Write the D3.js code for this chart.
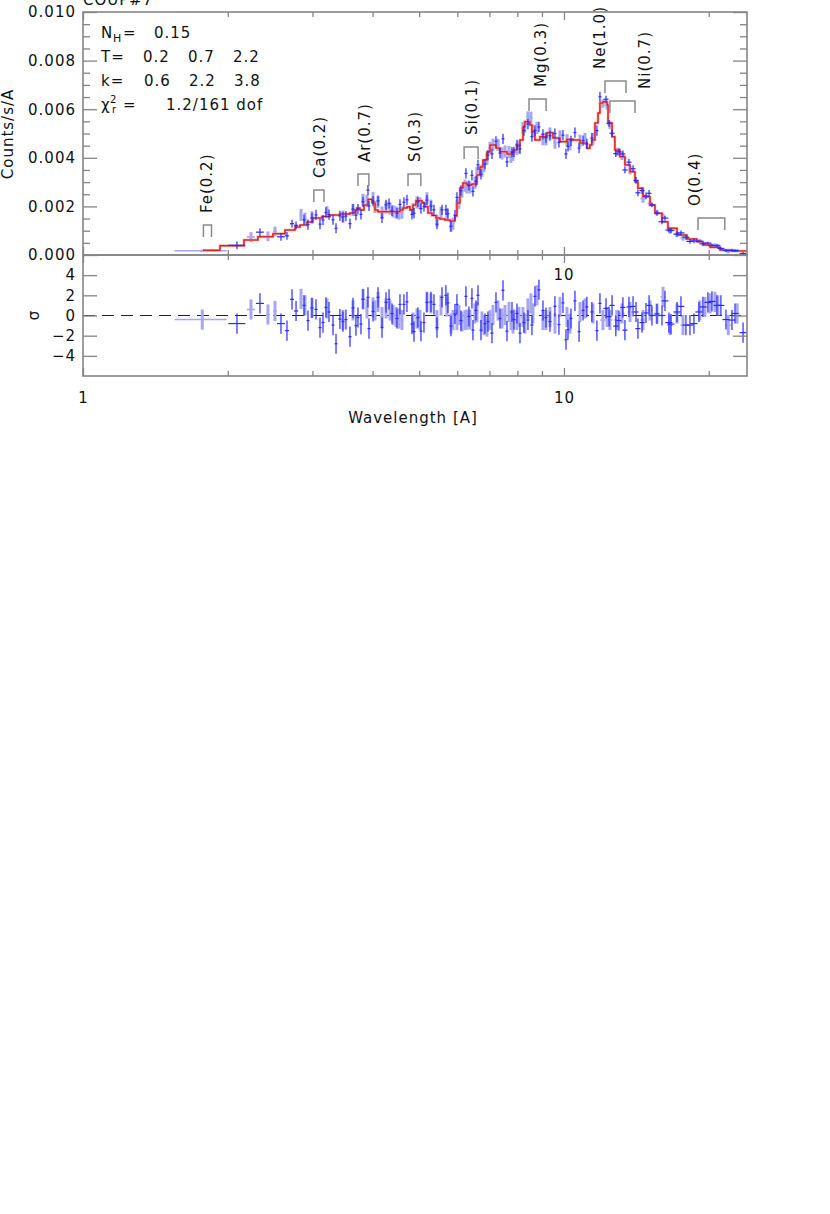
<!DOCTYPE html>
<html><head><meta charset="utf-8">
<script src="https://cdn.jsdelivr.net/npm/d3@7"></script>
<style>
body{margin:0;background:#fff}
text{font-family:"DejaVu Sans",sans-serif;font-size:15px;letter-spacing:1px;fill:#111}
</style>
</head><body>
<svg id="c" width="830" height="1214"></svg>
<script>
// ---------------- data ----------------
const title = "COUP#7";
const yTicks = [0, 0.002, 0.004, 0.006, 0.008, 0.010];
const yMinorTicks = [0.0005,0.001,0.0015,0.0025,0.003,0.0035,0.0045,0.005,0.0055,0.0065,0.007,0.0075,0.0085,0.009,0.0095];
const resTicks = [-4, -2, 0, 2, 4];
const xMajorTicks = [1, 10];
const xMinorTicks = [2, 3, 4, 5, 6, 7, 8, 9, 20];

// model (step histogram): left bin edge and value
const modelLam = [1.776,1.927,2.161,2.311,2.483,2.630,2.760,2.826,2.922,3.007,3.140,3.263,3.421,3.590,3.677,3.712,3.766,3.839,3.913,3.990,4.047,4.106,4.561,4.627,4.716,4.784,4.854,4.923,5.067,5.140,5.215,5.316,5.419,5.524,5.656,5.794,5.934,5.991,6.078,6.166,6.285,6.437,6.594,6.689,6.786,6.917,7.018,7.222,7.362,7.613,7.834,7.986,8.101,8.218,8.297,8.497,8.579,8.703,8.914,9.218,9.486,9.810,10.145,10.44,10.80,11.16,11.32,11.43,11.60,11.77,11.88,12.05,12.29,12.35,12.59,12.76,13.07,13.39,13.72,14.05,14.25,14.60,15.10,15.46,15.99,16.45,17.18,18.02,18.90,19.45,20.12,21.10,22.46,24.02];
const modelVal = [0.000193,0.000383,0.000617,0.000753,0.000877,0.001029,0.001152,0.001235,0.001358,0.001523,0.001584,0.001646,0.001687,0.001728,0.001852,0.001934,0.001852,0.002058,0.002292,0.002140,0.001852,0.001782,0.001852,0.001934,0.001988,0.001852,0.002058,0.002234,0.002140,0.001988,0.001728,0.001625,0.001523,0.001481,0.001440,0.001399,0.001605,0.002140,0.002757,0.002963,0.002881,0.002922,0.003292,0.003621,0.003909,0.004238,0.004527,0.004403,0.004251,0.004156,0.004321,0.004485,0.004732,0.005267,0.005485,0.005350,0.005074,0.004732,0.004868,0.005033,0.004815,0.004662,0.004761,0.004732,0.004609,0.004391,0.004527,0.004732,0.005432,0.005843,0.006255,0.006308,0.006173,0.005432,0.004868,0.004321,0.004045,0.003704,0.003428,0.003016,0.002745,0.002399,0.002058,0.001716,0.001370,0.001099,0.000823,0.000658,0.000547,0.000412,0.000317,0.000206,0.000165,0.000165];

// dataset A (dark blue)
const lamA = [2.090,2.333,2.580,2.655,2.720,2.773,2.881,2.936,2.993,3.051,3.110,3.155,3.200,3.247,3.310,3.358,3.421,3.471,3.521,3.590,3.642,3.694,3.730,3.784,3.821,3.913,3.932,4.009,4.106,4.185,4.266,4.328,4.391,4.496,4.561,4.649,4.716,4.831,4.877,4.970,5.043,5.116,5.189,5.290,5.367,5.445,5.577,5.683,5.738,5.822,5.934,5.991,6.107,6.255,6.345,6.437,6.468,6.562,6.626,6.721,6.851,6.950,7.085,7.222,7.362,7.469,7.613,7.797,7.872,7.986,8.101,8.257,8.417,8.579,8.703,8.871,9.043,9.174,9.351,9.577,9.763,9.952,10.097,10.194,10.341,10.54,10.75,10.956,11.16,11.43,11.71,11.88,12.23,12.41,12.59,12.82,13.01,13.26,13.39,13.65,13.92,14.12,14.25,14.53,14.81,15.03,15.24,15.61,15.99,16.22,16.53,16.69,17.18,17.51,17.93,18.28,18.63,19.08,19.45,19.92,20.31,20.80,21.20,21.72,22.35,22.68,23.57];
const hwA = [0.085,0.045,0.049,0.026,0.026,0.027,0.021,0.021,0.022,0.022,0.022,0.023,0.023,0.023,0.024,0.024,0.025,0.025,0.025,0.026,0.026,0.027,0.027,0.027,0.028,0.028,0.028,0.029,0.030,0.030,0.031,0.031,0.032,0.032,0.033,0.033,0.034,0.035,0.035,0.036,0.036,0.037,0.037,0.038,0.039,0.039,0.040,0.041,0.041,0.042,0.043,0.043,0.044,0.045,0.046,0.046,0.047,0.047,0.048,0.048,0.049,0.050,0.051,0.052,0.053,0.054,0.055,0.056,0.057,0.058,0.058,0.059,0.061,0.062,0.063,0.064,0.065,0.066,0.067,0.069,0.070,0.072,0.073,0.073,0.074,0.076,0.077,0.079,0.080,0.082,0.084,0.086,0.150,0.152,0.154,0.156,0.158,0.160,0.162,0.165,0.168,0.170,0.172,0.175,0.178,0.180,0.183,0.187,0.269,0.272,0.278,0.280,0.289,0.294,0.301,0.307,0.313,0.321,0.327,0.335,0.341,0.349,0.356,0.365,0.375,0.381,0.396];
const valA = [0.00040,0.00094,0.00075,0.00079,0.00129,0.00122,0.00145,0.00125,0.00152,0.00165,0.00127,0.00144,0.00175,0.00166,0.00145,0.00110,0.00161,0.00156,0.00160,0.00129,0.00189,0.00164,0.00189,0.00167,0.00219,0.00267,0.00202,0.00222,0.00223,0.00153,0.00206,0.00212,0.00182,0.00172,0.00208,0.00217,0.00227,0.00167,0.00172,0.00219,0.00191,0.00199,0.00226,0.00201,0.00186,0.00127,0.00186,0.00186,0.00170,0.00118,0.00164,0.00237,0.00265,0.00336,0.00286,0.00328,0.00262,0.00303,0.00371,0.00332,0.00374,0.00411,0.00416,0.00468,0.00419,0.00478,0.00383,0.00423,0.00424,0.00453,0.00437,0.00512,0.00539,0.00487,0.00513,0.00527,0.00497,0.00483,0.00491,0.00500,0.00463,0.00493,0.00416,0.00447,0.00470,0.00504,0.00440,0.00471,0.00457,0.00481,0.00512,0.00651,0.00641,0.00542,0.00501,0.00417,0.00425,0.00416,0.00350,0.00382,0.00355,0.00307,0.00256,0.00265,0.00243,0.00254,0.00206,0.00173,0.00137,0.00152,0.00103,0.00101,0.00086,0.00091,0.00073,0.00056,0.00058,0.00057,0.00046,0.00049,0.00040,0.00038,0.00027,0.00018,0.00018,0.00018,0.00006];
const errA = [0.00016,0.00016,0.00016,0.00016,0.00016,0.00016,0.00021,0.00021,0.00021,0.00021,0.00021,0.00021,0.00021,0.00021,0.00021,0.00021,0.00021,0.00021,0.00021,0.00021,0.00021,0.00021,0.00021,0.00021,0.00021,0.00021,0.00021,0.00021,0.00021,0.00021,0.00021,0.00021,0.00021,0.00021,0.00021,0.00021,0.00021,0.00021,0.00021,0.00021,0.00021,0.00021,0.00021,0.00021,0.00021,0.00021,0.00021,0.00021,0.00021,0.00021,0.00021,0.00021,0.00021,0.00021,0.00021,0.00021,0.00021,0.00021,0.00021,0.00021,0.00021,0.00021,0.00021,0.00021,0.00021,0.00021,0.00021,0.00021,0.00021,0.00021,0.00021,0.00021,0.00021,0.00021,0.00021,0.00021,0.00021,0.00021,0.00021,0.00021,0.00021,0.00021,0.00021,0.00021,0.00021,0.00021,0.00021,0.00021,0.00021,0.00021,0.00021,0.00021,0.00014,0.00014,0.00014,0.00014,0.00014,0.00014,0.00014,0.00014,0.00014,0.00014,0.00014,0.00014,0.00014,0.00014,0.00010,0.00010,0.00010,0.00010,0.00010,0.00010,0.00010,0.00010,0.00010,0.00010,0.00010,0.00006,0.00006,0.00006,0.00006,0.00006,0.00006,0.00006,0.00006,0.00006,0.00006];
const resA = [-0.8,1.2,-0.8,-1.5,1.6,0.45,1.0,-0.5,0.75,0.6,-1.2,-0.7,0.8,0.35,-0.95,-2.8,-0.35,-0.6,-0.4,-2.1,0.75,-1.0,-0.2,-0.85,1.6,1.8,-1.3,0.4,1.8,-1.2,1.3,1.6,0.2,-0.3,1.1,1.1,1.35,-0.85,-1.6,-0.2,-1.55,-0.7,1.3,1.35,1.1,-1.2,1.8,2.0,1.25,-1.05,0.15,1.1,-0.5,1.9,-0.1,1.7,-1.45,0.5,2.0,-1.45,-0.8,-0.6,-1.75,1.3,-0.3,2.5,-1.55,0.35,-0.4,0.2,-1.75,-0.7,-0.45,-0.95,1.9,2.55,0.5,-0.2,-0.6,0.9,-0.9,1.25,-2.4,-1.4,-0.3,1.45,-1.6,0.5,0.85,0.35,-1.5,1.2,0.7,-0.1,1.0,-1.05,-0.5,0.8,-1.45,0.85,0.9,0.35,-1.3,-0.7,0.25,1.0,0.0,0.15,0.0,1.45,-0.7,-0.85,0.35,0.9,-0.95,-0.95,-0.8,0.35,0.85,1.3,1.4,1.0,1.0,-0.4,-0.45,0.2,-1.7];

// dataset B (light blue)
const lamB = [1.77,2.235,2.424,2.507,2.840,2.894,2.993,3.216,3.471,3.642,3.821,3.894,4.009,4.047,4.106,4.185,4.266,4.349,4.412,4.476,4.540,4.605,4.854,4.947,5.019,5.189,5.290,5.445,5.551,5.710,5.822,5.878,5.991,6.049,6.137,6.226,6.285,6.376,6.530,6.594,6.754,6.818,6.917,7.018,7.120,7.293,7.433,7.541,7.687,7.761,7.834,7.986,8.063,8.218,8.297,8.416,8.538,8.620,8.787,9.043,9.174,9.351,9.577,9.810,10.145,10.29,10.80,11.06,11.49,12.05,12.29,12.46,12.88,13.20,13.72,14.60,15.10,15.61,16.07,16.61,17.18,17.68,19.17,19.64,20.12,20.60,20.90,21.96,22.91];
const hwB = [0.22,0.043,0.023,0.024,0.020,0.021,0.022,0.023,0.025,0.026,0.028,0.028,0.029,0.029,0.030,0.030,0.031,0.031,0.032,0.032,0.033,0.033,0.035,0.036,0.036,0.037,0.038,0.039,0.040,0.041,0.042,0.042,0.043,0.044,0.044,0.045,0.045,0.046,0.047,0.047,0.049,0.049,0.050,0.051,0.051,0.053,0.054,0.054,0.055,0.056,0.056,0.058,0.058,0.059,0.060,0.061,0.061,0.062,0.063,0.065,0.066,0.067,0.069,0.071,0.073,0.074,0.078,0.080,0.083,0.145,0.147,0.150,0.155,0.158,0.165,0.175,0.181,0.187,0.193,0.199,0.206,0.212,0.230,0.236,0.241,0.247,0.251,0.264,0.275];
const valB = [0.000177,0.00074,0.00077,0.00097,0.00165,0.00149,0.00155,0.00176,0.00158,0.00185,0.00227,0.00223,0.00234,0.00198,0.00219,0.00175,0.00196,0.00191,0.00180,0.00175,0.00171,0.00174,0.00188,0.00216,0.00212,0.00233,0.00203,0.00141,0.00173,0.00167,0.00120,0.00129,0.00203,0.00215,0.00261,0.00285,0.00278,0.00278,0.00297,0.00338,0.00347,0.00367,0.00396,0.00441,0.00454,0.00453,0.00418,0.00426,0.00424,0.00404,0.00412,0.00437,0.00445,0.00523,0.00529,0.00566,0.00565,0.00512,0.00523,0.00476,0.00476,0.00500,0.00462,0.00488,0.00472,0.00456,0.00470,0.00478,0.00478,0.00623,0.00615,0.00536,0.00425,0.00408,0.00349,0.00232,0.00212,0.00174,0.00159,0.00099,0.00085,0.00071,0.00058,0.00047,0.00040,0.00041,0.00039,0.00014,0.00018];
const errB = [0.00005,0.00020,0.00020,0.00020,0.00025,0.00025,0.00025,0.00025,0.00025,0.00025,0.00025,0.00025,0.00025,0.00025,0.00025,0.00025,0.00025,0.00025,0.00025,0.00025,0.00025,0.00025,0.00025,0.00025,0.00025,0.00025,0.00025,0.00025,0.00025,0.00025,0.00025,0.00025,0.00025,0.00025,0.00025,0.00025,0.00025,0.00025,0.00025,0.00025,0.00025,0.00025,0.00025,0.00025,0.00025,0.00025,0.00025,0.00025,0.00025,0.00025,0.00025,0.00025,0.00025,0.00025,0.00025,0.00025,0.00025,0.00025,0.00025,0.00025,0.00025,0.00025,0.00025,0.00025,0.00025,0.00025,0.00025,0.00025,0.00025,0.00017,0.00017,0.00017,0.00017,0.00017,0.00017,0.00017,0.00012,0.00012,0.00012,0.00012,0.00012,0.00012,0.00007,0.00007,0.00007,0.00007,0.00007,0.00007,0.00007];
const resB = [-0.4,0.6,0.1,0.45,1.65,1.0,0.75,0.7,-0.45,0.5,1.65,0.7,0.8,0.5,1.35,-0.15,0.7,0.5,0.05,-0.15,-0.3,-0.45,-0.7,-0.3,-0.45,1.35,1.2,-0.45,1.0,0.9,-0.8,-0.45,-0.45,0.05,-0.6,-0.45,-0.4,-0.4,0.2,0.35,-0.6,-0.95,-1.1,-0.45,0.05,0.5,-0.3,0.05,0.35,-0.45,-0.8,-0.45,-0.15,-0.15,-0.8,0.7,1.2,0.2,2.0,-0.45,-0.45,-0.15,-0.8,0.85,-0.15,-0.8,0.35,0.7,0.2,-0.45,-0.15,-0.45,-0.45,0.2,0.35,-0.45,0.5,0.2,1.85,-0.95,0.2,-0.95,0.5,0.85,1.2,1.35,1.0,-0.95,0.2];

// line identification brackets
const lineNames = ["Fe(0.2)","Ca(0.2)","Ar(0.7)","S(0.3)","Si(0.1)","Mg(0.3)","Ne(1.0)","Ni(0.7)","O(0.4)"];
const lineLo = [1.78, 3.02, 3.73, 4.74, 6.20, 8.46, 12.17, 12.46, 19.0];
const lineHi = [1.85, 3.17, 3.93, 5.04, 6.63, 9.18, 13.46, 14.05, 21.6];
const lineLabelLam = [1.810, 3.102, 3.857, 4.900, 6.437, 8.958, 11.88, 14.74, 18.72];
const lineLevel = [0.00123, 0.00267, 0.00333, 0.00333, 0.00444, 0.00642, 0.00716, 0.00634, 0.00152];

// fit parameters
const parNH = "0.15";
const parT = ["0.2", "0.7", "2.2"];
const parK = ["0.6", "2.2", "3.8"];
const parChi = "1.2/161 dof";

// ---------------- drawing ----------------
const svg = d3.select("#c");
const L = 83, R = 747, T = 12, B1 = 255, B2 = 376;
const x = d3.scaleLog().domain([1, 24.02]).range([L, R]);
const y = d3.scaleLinear().domain([0, 0.010]).range([B1, T]);
const yr = d3.scaleLinear().domain([-6, 6]).range([B2, B1]);

const defs = svg.append("defs");
defs.append("clipPath").attr("id","cm").append("rect").attr("x",L).attr("y",T).attr("width",R-L).attr("height",B1-T);
defs.append("clipPath").attr("id","cr").append("rect").attr("x",L).attr("y",B1).attr("width",R-L).attr("height",B2-B1);

const DARK = "#2a2aff", LIGHT = "#a6a6f2", RED = "#d80000", LRED = "#f29a9a";

function crosses(g, lam, hw, val, err, ys, color, vw, hwid) {
  const idx = d3.range(lam.length);
  g.selectAll(null).data(idx).join("line")
    .attr("x1", i => x(lam[i])).attr("x2", i => x(lam[i]))
    .attr("y1", i => ys(val[i] - err[i])).attr("y2", i => ys(val[i] + err[i]))
    .attr("stroke", color).attr("stroke-width", vw);
  g.selectAll(null).data(idx).join("line")
    .attr("x1", i => x(lam[i] - hw[i])).attr("x2", i => x(lam[i] + hw[i]))
    .attr("y1", i => ys(val[i])).attr("y2", i => ys(val[i]))
    .attr("stroke", color).attr("stroke-width", hwid);
}

// main panel
const gm = svg.append("g").attr("clip-path","url(#cm)");
crosses(gm.append("g"), lamB, hwB, valB, errB, y, LIGHT, 3, 1.6);
const modelIdx = d3.range(modelLam.length);
const stepLine = d3.line().curve(d3.curveStepAfter).x(i => x(modelLam[i])).y(i => y(modelVal[i]));
gm.append("path").datum(modelIdx).attr("d", stepLine).attr("fill","none").attr("stroke",LRED).attr("stroke-width",2.5);
gm.append("path").datum(modelIdx).attr("d", stepLine).attr("fill","none").attr("stroke",RED).attr("stroke-width",1.1);
crosses(gm.append("g"), lamA, hwA, valA, errA, y, DARK, 1.2, 1.2);

// residual panel
const one = d3.range(lamA.length).map(() => 1);
const oneB = d3.range(lamB.length).map(() => 1);
const gr = svg.append("g").attr("clip-path","url(#cr)");
gr.append("line").attr("x1",L).attr("x2",R).attr("y1",yr(0)).attr("y2",yr(0))
  .attr("stroke","#222").attr("stroke-width",1).attr("stroke-dasharray","12,7");
crosses(gr.append("g"), lamB, hwB, resB, oneB, yr, LIGHT, 3, 1.6);
crosses(gr.append("g"), lamA, hwA, resA, one, yr, DARK, 1.2, 1.2);

// line brackets & labels
const gl = svg.append("g");
lineNames.forEach((n, i) => {
  const x0 = x(lineLo[i]), x1 = x(lineHi[i]), yt = y(lineLevel[i]);
  gl.append("path").attr("d", `M${x0},${yt+12}V${yt}H${x1}V${yt+12}`)
    .attr("fill","none").attr("stroke","#8a8a8a").attr("stroke-width",1.5);
  gl.append("text").attr("transform", `translate(${x(lineLabelLam[i])},${yt-12}) rotate(-90)`)
    .attr("dy","0.36em").attr("text-anchor","start").text(n);
});

// axes
const AX = "#858585";
function styleAxis(g){ g.select(".domain").remove(); g.selectAll(".tick line").attr("stroke",AX).attr("stroke-width",1.3);
  g.selectAll(".tick text").attr("fill","#111").style("font-family",'"DejaVu Sans",sans-serif').style("font-size","15px").style("letter-spacing","1px"); }

svg.append("g").attr("transform",`translate(${L},0)`).call(d3.axisLeft(y).tickValues(yTicks).tickSize(-14).tickPadding(7).tickFormat(d3.format(".3f"))).call(styleAxis);
svg.append("g").attr("transform",`translate(${L},0)`).call(d3.axisLeft(y).tickValues(yMinorTicks).tickSize(-7).tickFormat("")).call(styleAxis);
svg.append("g").attr("transform",`translate(${R},0)`).call(d3.axisRight(y).tickValues(yTicks).tickSize(-14).tickFormat("")).call(styleAxis);
svg.append("g").attr("transform",`translate(${R},0)`).call(d3.axisRight(y).tickValues(yMinorTicks).tickSize(-7).tickFormat("")).call(styleAxis);

svg.append("g").attr("transform",`translate(${L},0)`).call(d3.axisLeft(yr).tickValues(resTicks).tickSize(-14).tickPadding(7).tickFormat(d3.format("d"))).call(styleAxis);
svg.append("g").attr("transform",`translate(${R},0)`).call(d3.axisRight(yr).tickValues(resTicks).tickSize(-14).tickFormat("")).call(styleAxis);

[[T,"top"],[B1,"bottom"],[B1,"top"]].forEach(([yy, side]) => {
  const mk = side === "top" ? d3.axisTop : d3.axisBottom;
  svg.append("g").attr("transform",`translate(0,${yy})`).call(mk(x).tickValues(xMajorTicks).tickSize(-8).tickFormat("")).call(styleAxis);
  svg.append("g").attr("transform",`translate(0,${yy})`).call(mk(x).tickValues(xMinorTicks).tickSize(-5).tickFormat("")).call(styleAxis);
});
svg.append("g").attr("transform",`translate(0,${B2})`).call(d3.axisBottom(x).tickValues(xMajorTicks).tickSize(-8).tickPadding(16).tickFormat(d3.format("d"))).call(styleAxis);
svg.append("g").attr("transform",`translate(0,${B2})`).call(d3.axisBottom(x).tickValues(xMinorTicks).tickSize(-5).tickFormat("")).call(styleAxis);

// frames
svg.append("rect").attr("x",L).attr("y",T).attr("width",R-L).attr("height",B1-T).attr("fill","none").attr("stroke",AX).attr("stroke-width",1.6);
svg.append("rect").attr("x",L).attr("y",B1).attr("width",R-L).attr("height",B2-B1).attr("fill","none").attr("stroke",AX).attr("stroke-width",1.6);

// stray top label of residual panel
svg.append("text").attr("x", x(10)).attr("y", 280).attr("text-anchor","middle").text(d3.format("d")(xMajorTicks[1]));

// titles
svg.append("text").attr("x",83).attr("y",5).text(title);
svg.append("text").attr("transform","translate(13,134) rotate(-90)").attr("text-anchor","middle").text("Counts/s/A");
svg.append("text").attr("transform","translate(39,315) rotate(-90)").attr("text-anchor","middle").text("σ");
svg.append("text").attr("x",413).attr("y",423).attr("text-anchor","middle").text("Wavelength [A]");

// parameter block
const gp = svg.append("g");
gp.append("text").attr("x",101).attr("y",38).text("N");
gp.append("text").attr("x",113).attr("y",42).style("font-size","11px").style("letter-spacing","0px").text("H");
gp.append("text").attr("x",123).attr("y",38).text("=");
gp.append("text").attr("x",154).attr("y",38).text(parNH);
gp.append("text").attr("x",101).attr("y",62).text("T=");
[143,188,233].forEach((xx,i)=>gp.append("text").attr("x",xx).attr("y",62).text(parT[i]));
gp.append("text").attr("x",101).attr("y",86).text("k=");
[144,189,234].forEach((xx,i)=>gp.append("text").attr("x",xx).attr("y",86).text(parK[i]));
gp.append("text").attr("x",101).attr("y",110).text("χ");
gp.append("text").attr("x",110).attr("y",103).style("font-size","10px").style("letter-spacing","0px").text("2");
gp.append("text").attr("x",112).attr("y",113).style("font-size","10px").style("letter-spacing","0px").text("r");
gp.append("text").attr("x",123).attr("y",110).text("=");
gp.append("text").attr("x",166).attr("y",110).text(parChi);
</script>
</body></html>
